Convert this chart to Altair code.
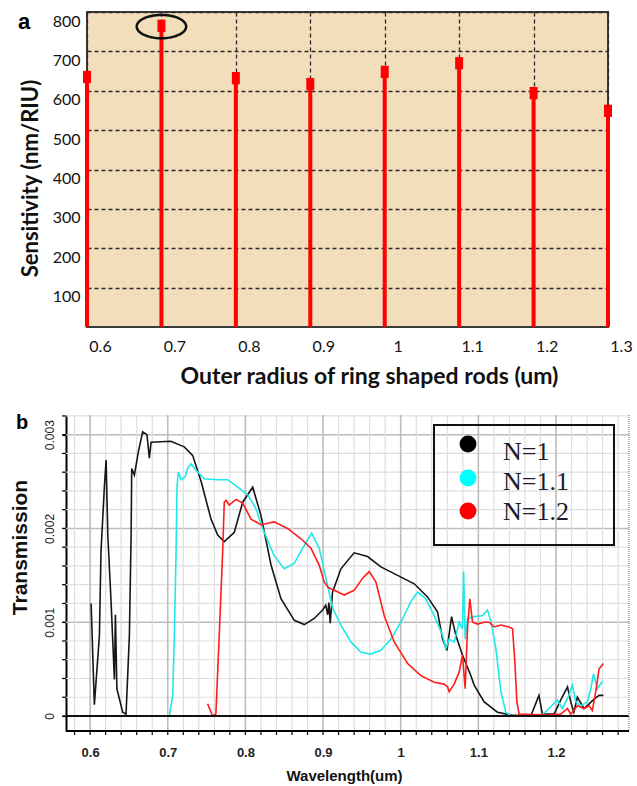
import math
import altair as alt
import pandas as pd

# ---------------- Panel (a) data ----------------
radius = [0.6, 0.7, 0.8, 0.9, 1.0, 1.1, 1.2, 1.3]
sensitivity = [635, 765, 632, 617, 648, 670, 594, 549]
sens_ticks = [100, 200, 300, 400, 500, 600, 700, 800]
highlight_radius = [0.7]
highlight_sens = [763]

# ---------------- Panel (b) data ----------------
wl_n1 = [0.6013, 0.6055, 0.612, 0.614, 0.6185, 0.6206, 0.6228, 0.627, 0.6313, 0.6326,
         0.6345, 0.642, 0.6463, 0.6506, 0.6528, 0.6536, 0.657, 0.6622, 0.6677, 0.6732,
         0.6763, 0.6785, 0.704, 0.7213, 0.732, 0.743, 0.7557, 0.7643, 0.7728, 0.7857,
         0.7965, 0.8094, 0.82, 0.833, 0.8458, 0.863, 0.8758, 0.8887, 0.8994, 0.9035,
         0.906, 0.9075, 0.9092, 0.9122, 0.923, 0.94, 0.9573, 0.9745, 0.996, 1.0174,
         1.0345, 1.0474, 1.0538, 1.0595, 1.0655, 1.071, 1.0795, 1.0904, 1.0946, 1.1075,
         1.1246, 1.142, 1.1676, 1.178, 1.1825, 1.1975, 1.206, 1.2148, 1.219, 1.223,
         1.2275, 1.236, 1.2426, 1.249, 1.2555, 1.261]
tr_n1 = [0.00120, 0.00012, 0.00086, 0.00175, 0.00246, 0.00273, 0.00193, 0.00122, 0.00039, 0.00108,
         0.00029, 0.00004, 0.00002, 0.00086, 0.00193, 0.00264, 0.00257, 0.00282, 0.00303, 0.00300,
         0.00275, 0.00292, 0.00293, 0.00287, 0.00278, 0.00250, 0.00210, 0.00193, 0.00186, 0.00196,
         0.00228, 0.00244, 0.00214, 0.00161, 0.00125, 0.00102, 0.000975, 0.00104, 0.00113, 0.00118,
         0.00108, 0.00121, 0.00099, 0.00132, 0.00157, 0.00174, 0.00170, 0.00159, 0.00150, 0.00141,
         0.00127, 0.00111, 0.000825, 0.00070, 0.00106, 0.00086, 0.00065, 0.00043, 0.00033, 0.00015,
         0.00004, 0.00001, 0.0, 0.00022, 0.00002, 0.00002, 0.00017, 0.00031, 0.00015, 0.00004,
         0.00020, 0.00008, 0.00013, 0.00018, 0.00022, 0.00022]

wl_n11 = [0.702, 0.7064, 0.7085, 0.7107, 0.712, 0.7137, 0.7171, 0.7223, 0.7256, 0.73,
          0.7364, 0.7471, 0.7643, 0.7772, 0.79, 0.803, 0.8136, 0.8222, 0.837, 0.85,
          0.863, 0.8758, 0.8853, 0.895, 0.9037, 0.9123, 0.923, 0.9359, 0.9488, 0.9617,
          0.9745, 0.9874, 1.0003, 1.0131, 1.0217, 1.0324, 1.0431, 1.0539, 1.0582, 1.0624,
          1.0689, 1.0753, 1.0795, 1.081, 1.083, 1.086, 1.0946, 1.1053, 1.1117, 1.116,
          1.1225, 1.129, 1.1354, 1.142, 1.1805, 1.191, 1.2018, 1.2082, 1.2166, 1.221,
          1.2255, 1.232, 1.2404, 1.2448, 1.2482, 1.2533, 1.2597]
tr_n11 = [0.0, 0.00022, 0.00086, 0.00175, 0.00246, 0.00260, 0.00252, 0.00255, 0.00264, 0.00269,
          0.00262, 0.00253, 0.00252, 0.00252, 0.00244, 0.00236, 0.00221, 0.00200, 0.00171, 0.00157,
          0.00163, 0.00182, 0.00195, 0.00179, 0.00147, 0.00115, 0.00097, 0.00079, 0.00068, 0.00066,
          0.00070, 0.00082, 0.00100, 0.00122, 0.00132, 0.00125, 0.00107, 0.00086, 0.00072, 0.00082,
          0.00079, 0.00100, 0.00093, 0.00154, 0.00082, 0.00104, 0.00106, 0.00107, 0.00113, 0.00102,
          0.00072, 0.00026, 0.00004, 0.0, 0.0, 0.00008, 0.00017, 0.00008, 0.00022, 0.00033,
          0.00015, 0.00011, 0.00015, 0.00029, 0.00045, 0.00029, 0.00037]

wl_n12 = [0.7513, 0.7578, 0.762, 0.7663, 0.7707, 0.7728, 0.775, 0.7792, 0.7879, 0.7965,
          0.8072, 0.82, 0.837, 0.8543, 0.8716, 0.8844, 0.895, 0.9015, 0.9067, 0.9144,
          0.9273, 0.94, 0.951, 0.9595, 0.968, 0.9788, 0.9916, 1.0089, 1.026, 1.0431,
          1.056, 1.0604, 1.0624, 1.0689, 1.0753, 1.0796, 1.083, 1.086, 1.089, 1.0925,
          1.0989, 1.1075, 1.1139, 1.1203, 1.129, 1.1396, 1.144, 1.147, 1.1496, 1.1525,
          1.189, 1.206, 1.2148, 1.219, 1.2275, 1.236, 1.2426, 1.2468, 1.2512, 1.2554, 1.261]
tr_n12 = [0.00013, 0.0, 0.00002, 0.00086, 0.00175, 0.00228, 0.00230, 0.00225, 0.00231, 0.00227,
          0.00210, 0.00204, 0.00207, 0.00200, 0.00189, 0.00179, 0.00161, 0.00143, 0.00137, 0.00134,
          0.00129, 0.00134, 0.00147, 0.00154, 0.00143, 0.00107, 0.00079, 0.00056, 0.00043, 0.00036,
          0.00034, 0.00031, 0.00026, 0.00034, 0.00047, 0.00065, 0.00029, 0.00093, 0.00125, 0.00100,
          0.00098, 0.00100, 0.00100, 0.00095, 0.00097, 0.00095, 0.00093, 0.00058, 0.00015, 0.00002,
          0.00001, 0.00002, 0.00008, 0.00002, 0.00011, 0.00008, 0.00011, 0.00006, 0.00026, 0.00050, 0.00056]

series_names = ["N=1", "N=1.1", "N=1.2"]
series_colors = ["#161616", "#1fe8e8", "#ff1c1c"]
legend_colors = ["#000000", "#00ffff", "#ff0000"]
wl_major = [0.6, 0.7, 0.8, 0.9, 1.0, 1.1, 1.2]
wl_grid = [round(0.58 + 0.02 * i, 2) for i in range(36)]
tr_major = [0.0, 0.001, 0.002, 0.003]
tr_grid = [round(0.0002 * i, 4) for i in range(17)]
wl_domain = [0.596, 1.294]
tr_domain = [-0.00016, 0.00321]

# ---------------- tables ----------------
stem_df = pd.DataFrame({"radius": radius, "sensitivity": sensitivity})
hl_df = pd.DataFrame({"r": highlight_radius, "s": highlight_sens})
rows = []
for name, wl, tr in zip(series_names, [wl_n1, wl_n11, wl_n12], [tr_n1, tr_n11, tr_n12]):
    for i, (w, t) in enumerate(zip(wl, tr)):
        rows.append({"series": name, "wl": w, "tr": t, "idx": i})
line_df = pd.DataFrame(rows)
ygrid_minor_df = pd.DataFrame({"tr": [v for v in tr_grid if v not in tr_major]})
ygrid_major_df = pd.DataFrame({"tr": [v for v in tr_major if v > 0]})
ytick_df = pd.DataFrame({"tr": tr_grid})
xgrid_minor_df = pd.DataFrame({"wl": [v for v in wl_grid if v not in wl_major]})
xgrid_major_df = pd.DataFrame({"wl": wl_major})
xtick_df = pd.DataFrame({"wl": wl_grid})
zero_df = pd.DataFrame({"tr": [0.0]})
one = pd.DataFrame({"v": [0]})

# ellipse outline (symbol shape in unit box)
ell_pts = [(math.cos(2 * math.pi * k / 60), 0.47 * math.sin(2 * math.pi * k / 60)) for k in range(60)]
ellipse_path = "M " + " L ".join(f"{x:.4f} {y:.4f}" for x, y in ell_pts) + " Z"

# ---------------- Panel (a) ----------------
xsc_a = alt.Scale(domain=[0.6, 1.3], nice=False, zero=False)
ysc_a = alt.Scale(domain=[0, 800], nice=False)

xaxis_a = alt.Axis(values=radius, format="~g", grid=True, gridDash=[4, 3], gridColor="#2a2a2a",
                   gridWidth=1.3, domain=False, ticks=False, labelFont="Lato", labelFontSize=16,
                   labelColor="#111", labelPadding=11, labelOffset=13, labelFlush=False,
                   labelOverlap=False,
                   title="Outer radius of ring shaped rods (um)", titleFont="Lato", titleFontSize=23,
                   titleFontWeight="bold", titleColor="#111", titleX=282, titleY=49,
                   titleAlign="center", titleBaseline="middle")
yaxis_a = alt.Axis(values=sens_ticks, grid=True, gridDash=[4, 3], gridColor="#2a2a2a", gridWidth=1.3,
                   domain=False, ticks=False, labelFont="Lato", labelFontSize=16, labelColor="#111",
                   labelPadding=7, labelOffset=9, labelFlush=False, labelOverlap=False,
                   title="Sensitivity (nm/RIU)", titleFont="Lato", titleFontSize=22,
                   titleFontWeight="bold", titleColor="#111", titleX=-57, titleY=166,
                   titleAngle=270, titleAlign="center", titleBaseline="middle")

stems = alt.Chart(stem_df).mark_rule(color="#ff0000", strokeWidth=4).encode(
    x=alt.X("radius:Q", scale=xsc_a, axis=xaxis_a),
    y=alt.Y("sensitivity:Q", scale=ysc_a, axis=yaxis_a),
    y2=alt.datum(0),
)
caps = alt.Chart(stem_df).mark_point(
    shape="M -0.65 -1 L 0.65 -1 L 0.65 1 L -0.65 1 Z", filled=True, color="#ff0000",
    size=150, opacity=1,
).encode(x=alt.X("radius:Q", scale=xsc_a, axis=xaxis_a),
         y=alt.Y("sensitivity:Q", scale=ysc_a, axis=yaxis_a))
ellipse = alt.Chart(hl_df).mark_point(
    shape=ellipse_path, filled=False, color="#111", strokeWidth=2.5, size=2450, opacity=1,
    clip=True,
).encode(x=alt.X("r:Q", scale=xsc_a, axis=xaxis_a),
         y=alt.Y("s:Q", scale=ysc_a, axis=yaxis_a))
lab_a = alt.Chart(pd.DataFrame({"t": ["a"]})).mark_text(
    align="left", baseline="alphabetic", font="Liberation Sans", fontSize=22,
    fontWeight="bold", color="#000",
).encode(text="t:N", x=alt.value(-69), y=alt.value(17))
anchor_a = alt.Chart(pd.DataFrame({"t": ["."]})).mark_text(
    align="left", opacity=0, fontSize=8,
).encode(text="t:N", x=alt.value(-86), y=alt.value(150))

top = alt.layer(stems, caps, ellipse, lab_a, anchor_a).properties(
    width=521, height=315,
    view=alt.ViewBackground(fill="#F3DEBB", stroke="#3a3a3a", strokeWidth=2),
)

# ---------------- Panel (b) ----------------
W_B, H_B, EXT = 542, 316, 21   # plot size and left extension of the frame
xsc_b = alt.Scale(domain=wl_domain, nice=False, zero=False)
ysc_b = alt.Scale(domain=tr_domain, nice=False, zero=False)

xaxis_b = alt.Axis(values=wl_major, format="~g", grid=False, domain=False, ticks=False,
                   labelFont="Liberation Sans", labelFontSize=13, labelFontWeight="bold",
                   labelColor="#222", labelPadding=15, labelFlush=False, labelOverlap=False,
                   title="Wavelength(um)", titleFont="Liberation Sans", titleFontSize=15,
                   titleFontWeight="bold", titleColor="#111", titleX=257, titleY=44,
                   titleAlign="center", titleBaseline="middle")
yaxis_b = alt.Axis(values=tr_major, format="~g", grid=False, offset=EXT,
                   domain=True, domainColor="#000", domainWidth=2, ticks=True, tickColor="#000",
                   tickSize=4, tickWidth=1.2, labelFont="Liberation Sans", labelFontSize=12,
                   labelColor="#222", labelAngle=270, labelAlign="center", labelBaseline="middle",
                   labelPadding=13, labelFlush=False, labelOverlap=False,
                   title="Transmission", titleFont="Liberation Sans", titleFontSize=21,
                   titleFontWeight="bold", titleColor="#111", titleX=-46, titleY=132,
                   titleAngle=270, titleAlign="center", titleBaseline="middle")


def X(field):
    return alt.X(field, scale=xsc_b, axis=xaxis_b)


def Y(field):
    return alt.Y(field, scale=ysc_b, axis=yaxis_b)


color_scale = alt.Scale(domain=series_names, range=series_colors)

ygrid_minor = alt.Chart(ygrid_minor_df).mark_rule(color="#dedede", strokeWidth=1.2).encode(
    y=Y("tr:Q"), x=alt.value(-EXT), x2=alt.value(W_B))
ygrid_major = alt.Chart(ygrid_major_df).mark_rule(color="#bdbdbd", strokeWidth=1.6).encode(
    y=Y("tr:Q"), x=alt.value(-EXT), x2=alt.value(W_B))
xgrid_minor = alt.Chart(xgrid_minor_df).mark_rule(color="#dedede", strokeWidth=1.2).encode(
    x=X("wl:Q"))
xgrid_major = alt.Chart(xgrid_major_df).mark_rule(color="#bdbdbd", strokeWidth=1.6).encode(
    x=X("wl:Q"))
lines = alt.Chart(line_df).mark_line(strokeWidth=1.6).encode(
    x=X("wl:Q"),
    y=Y("tr:Q"),
    color=alt.Color("series:N", scale=color_scale, legend=None),
    order="idx:Q",
)
zero_line = alt.Chart(zero_df).mark_rule(color="#111", strokeWidth=2).encode(
    y=Y("tr:Q"), x=alt.value(-EXT), x2=alt.value(W_B))
base_line = alt.Chart(one).mark_rule(color="#000", strokeWidth=2).encode(
    y=alt.value(H_B), x=alt.value(-EXT), x2=alt.value(W_B))
xticks = alt.Chart(xtick_df).mark_rule(color="#000", strokeWidth=1.2).encode(
    x=X("wl:Q"), y=alt.value(H_B), y2=alt.value(H_B + 4))
yticks = alt.Chart(ytick_df).mark_rule(color="#000", strokeWidth=1.2).encode(
    y=Y("tr:Q"), x=alt.value(-EXT - 4), x2=alt.value(-EXT))
right_edge = alt.Chart(one).mark_rule(color="#9a9a9a", strokeDash=[1, 1], strokeWidth=1.5).encode(
    x=alt.value(W_B), y=alt.value(0), y2=alt.value(H_B))
box = alt.Chart(one).mark_rect(fill="transparent", stroke="#111", strokeWidth=2).encode(
    x=alt.value(347), x2=alt.value(527), y=alt.value(10), y2=alt.value(130))

# legend entries (guide drawn inside the framed box)
legend_symbol_y = [29, 63, 96]
legend_label_y = [37, 67, 97]
legend_parts = []
for name, col, sy, ly in zip(series_names, legend_colors, legend_symbol_y, legend_label_y):
    entry_df = pd.DataFrame({"series": [name]})
    legend_parts.append(alt.Chart(entry_df).mark_circle(size=285, opacity=1, color=col).encode(
        x=alt.value(381), y=alt.value(sy)))
    legend_parts.append(alt.Chart(entry_df).mark_text(
        align="left", baseline="middle", font="Liberation Serif", fontSize=26, color="#1b1b2b",
    ).encode(text="series:N", x=alt.value(416), y=alt.value(ly)))

lab_b = alt.Chart(pd.DataFrame({"t": ["b"]})).mark_text(
    align="left", baseline="alphabetic", font="Liberation Sans", fontSize=20,
    fontWeight="bold", color="#000",
).encode(text="t:N", x=alt.value(-71), y=alt.value(14))

bottom = alt.layer(ygrid_minor, ygrid_major, xgrid_minor, xgrid_major, lines, zero_line,
                   base_line, xticks, yticks, right_edge, box, *legend_parts, lab_b).properties(
    width=W_B, height=H_B,
    view=alt.ViewBackground(stroke="transparent"),
)

chart = alt.concat(top, bottom, columns=1, spacing=23).properties(
    padding={"left": 0, "top": 10, "right": 0, "bottom": 0},
    background="white",
)

chart.save("out.html", embed_options={"renderer": "svg", "actions": False})
